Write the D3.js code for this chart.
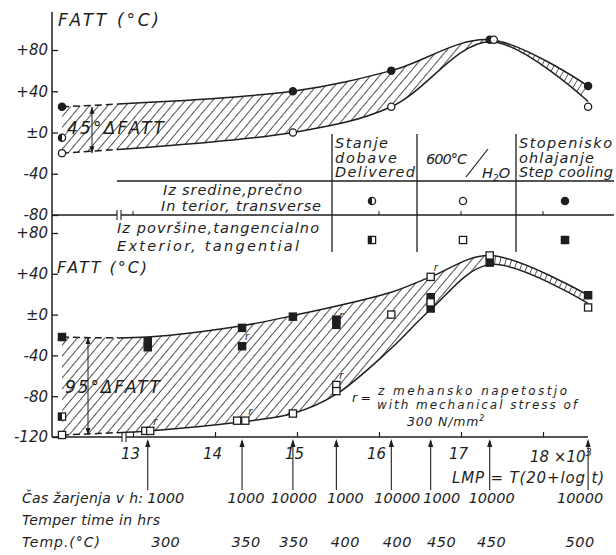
<!DOCTYPE html>
<html>
<head>
<meta charset="utf-8">
<script src="https://cdn.jsdelivr.net/npm/d3@7"></script>
<style>
  html, body { margin: 0; padding: 0; background: #fff; }
  svg { display: block; }
  text { font-family: "DejaVu Sans", sans-serif; font-style: italic; fill: #1e1e1e; }
</style>
</head>
<body>
<svg id="chart" width="616" height="555"></svg>
<script>
// ─── Data ──────────────────────────────────────────────────────────────────
const DELIVERED = "D";   // as-delivered state, plotted left of the axis break

// tempering treatments: LMP (x10^3), time in h, temperature in °C
const treatLMP   = [13.18, 14.33, 14.95, 15.48, 16.15, 16.63, 17.35, 18.55];
const treatHours = ["1000", "1000", "10000", "1000", "10000", "1000", "10000", "10000"];
const treatTemp  = ["300", "350", "350", "400", "400", "450", "450", "500"];
const lmpTicks   = [13, 14, 15, 16, 17, 18];
const topAxisTicks = [13, 16, 17, 18];
const topYTicks  = [80, 40, 0, -40, -80];
const botYTicks  = [80, 40, 0, -40, -80, -120];
const PEAK_LMP   = 17.35;

// interior, transverse (circles) — upper panel
const topStep      = [[DELIVERED, 25], [14.95, 40], [16.15, 60], [17.35, 90], [18.55, 45]];
const top600       = [[DELIVERED, -20], [14.95, 0], [16.15, 25], [17.40, 90], [18.55, 25]];
const topDelivered = [[DELIVERED, -5]];
const topUpper     = [[DELIVERED, 25], [14.95, 40], [16.15, 60], [17.35, 90], [18.55, 45]];
const topLower     = [[DELIVERED, -20], [14.95, 0], [16.15, 25], [17.35, 88], [18.55, 30]];

// exterior, tangential (squares) — lower panel; 3rd item = tested with stress (r)
const botStep = [[DELIVERED, -22], [13.18, -26], [13.18, -32], [14.33, -13], [14.33, -31, true],
                 [14.95, -2], [15.48, -5], [15.48, -10, true], [16.63, 17], [16.63, 6],
                 [17.35, 51], [18.55, 19]];
const bot600  = [[DELIVERED, -118], [13.15, -114], [13.21, -114, true], [14.27, -104], [14.37, -104, true],
                 [14.95, -97], [15.48, -69, true], [15.48, -75], [16.15, 0], [16.63, 37, true],
                 [16.63, 12], [17.35, 58], [18.55, 7]];
const botDelivered = [[DELIVERED, -100]];
const botUpper = [[DELIVERED, -22], [13.18, -22], [14.33, -11], [14.95, -1], [16.15, 22],
                  [16.63, 37], [17.35, 58], [18.55, 19]];
const botLower = [[DELIVERED, -118], [13.18, -114], [14.33, -105], [14.95, -97], [15.48, -78],
                  [16.15, -33], [16.63, 5], [17.35, 49], [18.55, 11]];

// ─── Layout ────────────────────────────────────────────────────────────────
const W = 616, H = 555;
const INK = "#1e1e1e";
const AXIS_X = 52, BREAK_X = 120, AXIS_END = 588, RIGHT = 614;
const TOP_BASE = 215, BOT_BASE = 437;
const HOUR_NUDGE = [18, 4, 1, 9, 6, 11, 2, -8];

const x = d3.scaleLinear().domain([13, 18]).range([133, 543]);
const xOf = v => v === DELIVERED ? AXIS_X + 10 : x(v);
const yTop = d3.scaleLinear().domain([-80, 80]).range([TOP_BASE, 50]);
const yBot = d3.scaleLinear().domain([-120, 80]).range([BOT_BASE, 233]);

const svg = d3.select("#chart").attr("viewBox", `0 0 ${W} ${H}`);
const defs = svg.append("defs");

defs.append("pattern").attr("id", "hatch")
  .attr("patternUnits", "userSpaceOnUse").attr("width", 7).attr("height", 7)
  .attr("patternTransform", "rotate(40)")
  .append("line").attr("x1", 3.5).attr("y1", -1).attr("x2", 3.5).attr("y2", 8)
  .attr("stroke", "#333").attr("stroke-width", 0.85);

defs.append("clipPath").attr("id", "clipDash").append("rect")
  .attr("x", 0).attr("y", 0).attr("width", BREAK_X - 2).attr("height", H);
defs.append("clipPath").attr("id", "clipSolid").append("rect")
  .attr("x", BREAK_X - 2).attr("y", 0).attr("width", W).attr("height", H);

// text helper; width (optional) stretches the letter spacing like the lettering stencil
function txt(g, tx, ty, s, size = 14, width = null, anchor = "start") {
  const t = g.append("text").attr("x", tx).attr("y", ty)
    .attr("font-size", size).attr("text-anchor", anchor).text(s);
  if (width) t.attr("textLength", width).attr("lengthAdjust", "spacing");
  return t;
}

// ─── Bands (hatched region between the two curves) ─────────────────────────
function drawBand(g, ys, upper, lower, id) {
  const line = d3.line().x(d => xOf(d[0])).y(d => ys(d[1])).curve(d3.curveCatmullRom.alpha(0.5));
  const dU = line(upper);
  const dL = line(lower.slice().reverse());
  const band = dU + "L" + dL.slice(1) + "Z";
  defs.append("clipPath").attr("id", id).append("path").attr("d", band);
  const xSplit = x(PEAK_LMP);
  const [yb, yt] = ys.range();

  g.append("rect")
    .attr("x", AXIS_X).attr("y", yt - 20)
    .attr("width", xSplit - AXIS_X).attr("height", yb - yt + 40)
    .attr("fill", "url(#hatch)").attr("clip-path", `url(#${id})`);

  // rungs across the narrow band right of the peak
  const tmp = g.append("path").attr("d", dU).attr("fill", "none");
  const node = tmp.node(), L = node.getTotalLength();
  const rungs = [];
  for (let l = 0; l <= L; l += 5.5) {
    const p = node.getPointAtLength(l);
    if (p.x < xSplit) continue;
    const a = node.getPointAtLength(Math.max(0, l - 1)), b = node.getPointAtLength(Math.min(L, l + 1));
    let tx = b.x - a.x, ty = b.y - a.y;
    const n = Math.hypot(tx, ty) || 1; tx /= n; ty /= n;
    let nx = -ty, ny = tx;
    if (ny < 0) { nx = -nx; ny = -ny; }
    rungs.push([p.x - nx * 2, p.y - ny * 2, p.x + nx * 30, p.y + ny * 30]);
  }
  tmp.remove();
  g.append("g").attr("clip-path", `url(#${id})`)
    .selectAll("line").data(rungs).join("line")
    .attr("x1", d => d[0]).attr("y1", d => d[1]).attr("x2", d => d[2]).attr("y2", d => d[3])
    .attr("stroke", "#333").attr("stroke-width", 0.85);

  [dU, line(lower)].forEach(d => {
    g.append("path").attr("d", d).attr("fill", "none").attr("stroke", INK)
      .attr("stroke-width", 1.5).attr("clip-path", "url(#clipSolid)");
    g.append("path").attr("d", d).attr("fill", "none").attr("stroke", INK)
      .attr("stroke-width", 1.5).attr("stroke-dasharray", "7 4").attr("clip-path", "url(#clipDash)");
  });
}

// ─── Markers ───────────────────────────────────────────────────────────────
function marker(g, mx, my, shape, fill) {
  const r = 3.6;
  if (shape === "circle") {
    g.append("circle").attr("cx", mx).attr("cy", my).attr("r", r)
      .attr("fill", fill === "full" ? INK : "#fff").attr("stroke", INK).attr("stroke-width", 1.3);
    if (fill === "half")
      g.append("path").attr("d", `M${mx},${my - r}A${r},${r} 0 0 0 ${mx},${my + r}Z`).attr("fill", INK);
  } else {
    g.append("rect").attr("x", mx - r).attr("y", my - r).attr("width", 2 * r).attr("height", 2 * r)
      .attr("fill", fill === "full" ? INK : "#fff").attr("stroke", INK).attr("stroke-width", 1.3);
    if (fill === "half")
      g.append("rect").attr("x", mx - r).attr("y", my - r).attr("width", r).attr("height", 2 * r).attr("fill", INK);
  }
}

function drawPoints(g, ys, pts, shape, fill) {
  pts.forEach(d => {
    const px = xOf(d[0]), py = ys(d[1]);
    marker(g, px, py, shape, fill);
    if (d[2]) txt(g, px + 3, py - 6, "r", 10);
  });
}

// ─── Axes ──────────────────────────────────────────────────────────────────
const axG = svg.append("g");
axG.append("line").attr("x1", AXIS_X).attr("y1", 12).attr("x2", AXIS_X).attr("y2", BOT_BASE)
  .attr("stroke", INK).attr("stroke-width", 1.5);

const fmtY = v => v > 0 ? `+${v}` : v === 0 ? "±0" : `-${-v}`;
[[yTop, topYTicks], [yBot, botYTicks]].forEach(([ys, ticks]) => {
  const a = axG.append("g").attr("transform", `translate(${AXIS_X},0)`)
    .call(d3.axisLeft(ys).tickValues(ticks).tickFormat(fmtY).tickSizeInner(-6).tickSizeOuter(0).tickPadding(4));
  a.select(".domain").remove();
  a.selectAll("line").attr("stroke", INK).attr("stroke-width", 1.3);
  a.selectAll("text").attr("font-size", 15).attr("font-family", null).attr("fill", INK);
});

// upper panel base line
axG.append("line").attr("x1", AXIS_X).attr("y1", TOP_BASE).attr("x2", RIGHT).attr("y2", TOP_BASE)
  .attr("stroke", INK).attr("stroke-width", 1.4);
axG.selectAll("line.tt").data(topAxisTicks).join("line").attr("class", "tt")
  .attr("x1", d => x(d)).attr("x2", d => x(d)).attr("y1", TOP_BASE).attr("y2", TOP_BASE - 4)
  .attr("stroke", INK);

// lower x axis
const xa = axG.append("g").attr("transform", `translate(0,${BOT_BASE})`)
  .call(d3.axisBottom(x).tickValues(lmpTicks).tickSizeInner(-5).tickSizeOuter(0).tickPadding(11)
    .tickFormat(d => d === 18 ? "" : d));
xa.select(".domain").remove();
xa.selectAll("line").attr("stroke", INK).attr("stroke-width", 1.2);
xa.selectAll("text").attr("font-size", 15).attr("font-family", null).attr("fill", INK)
  .attr("dx", -3);
axG.append("line").attr("x1", AXIS_X).attr("y1", BOT_BASE).attr("x2", AXIS_END).attr("y2", BOT_BASE)
  .attr("stroke", INK).attr("stroke-width", 1.4);
const t18 = txt(axG, x(18) - 13, BOT_BASE + 25, "18 ×10", 15);
t18.append("tspan").attr("dy", -6).attr("font-size", 10).text("3");

// axis breaks
[[TOP_BASE, BREAK_X - 3], [BOT_BASE, BREAK_X + 2]].forEach(([by, bx]) => {
  axG.append("rect").attr("x", bx).attr("y", by - 2).attr("width", 4).attr("height", 4).attr("fill", "#fff");
  [bx, bx + 4].forEach(lx => axG.append("line").attr("x1", lx).attr("x2", lx)
    .attr("y1", by - 5).attr("y2", by + 5).attr("stroke", INK).attr("stroke-width", 1.1));
});

// treatment arrows
treatLMP.forEach((v, i) => {
  const ax = x(v);
  axG.append("line").attr("x1", ax).attr("x2", ax).attr("y1", BOT_BASE + 4).attr("y2", 490)
    .attr("stroke", INK).attr("stroke-width", 1.1);
  axG.append("path").attr("d", `M${ax},${BOT_BASE + 2}l-2.6,8h5.2Z`).attr("fill", INK);
  txt(axG, ax + HOUR_NUDGE[i], 503, treatHours[i], 14.5, null, "middle");
  txt(axG, ax + HOUR_NUDGE[i], 547, treatTemp[i], 14.5, null, "middle").attr("letter-spacing", 0.5);
});

// ─── Bands & points ────────────────────────────────────────────────────────
const plot = svg.append("g");
drawBand(plot, yTop, topUpper, topLower, "bandTop");
drawBand(plot, yBot, botUpper, botLower, "bandBot");

// ΔFATT dimension arrows
function dimArrow(ys, lo, hi, ax) {
  const y1 = ys(hi), y2 = ys(lo);
  plot.append("line").attr("x1", ax).attr("x2", ax).attr("y1", y1).attr("y2", y2)
    .attr("stroke", INK).attr("stroke-width", 1);
  plot.append("path").attr("d", `M${ax},${y1}l-2.5,7h5Z`).attr("fill", INK);
  plot.append("path").attr("d", `M${ax},${y2}l-2.5,-7h5Z`).attr("fill", INK);
}
dimArrow(yTop, topLower[0][1], topUpper[0][1], 92);
dimArrow(yBot, botLower[0][1], botUpper[0][1], 88);

drawPoints(plot, yTop, topStep, "circle", "full");
drawPoints(plot, yTop, top600, "circle", "open");
drawPoints(plot, yTop, topDelivered, "circle", "half");
drawPoints(plot, yBot, botStep, "square", "full");
drawPoints(plot, yBot, bot600, "square", "open");
drawPoints(plot, yBot, botDelivered, "square", "half");

// ─── Table / legend ────────────────────────────────────────────────────────
const tab = svg.append("g");
tab.append("line").attr("x1", 117).attr("x2", RIGHT).attr("y1", 181).attr("y2", 181)
  .attr("stroke", INK).attr("stroke-width", 1.3);
[332, 417, 516].forEach(lx => tab.append("line").attr("x1", lx).attr("x2", lx)
  .attr("y1", 134).attr("y2", 252).attr("stroke", INK).attr("stroke-width", 1.3));

txt(tab, 335, 148, "Stanje", 14.5, 53);
txt(tab, 335, 162.5, "dobave", 14.5, 62);
txt(tab, 335, 177, "Delivered", 14.5, 80);
txt(tab, 519, 148, "Stopenisko", 14.5, 93);
txt(tab, 519, 162.5, "ohlajanje", 14.5, 75);
txt(tab, 519, 177, "Step cooling", 14.5, 94);

txt(tab, 426, 164, "600°C", 14.5, 41);
tab.append("line").attr("x1", 466).attr("y1", 177).attr("x2", 488).attr("y2", 149)
  .attr("stroke", INK).attr("stroke-width", 1.2);
const h2o = txt(tab, 482, 178, "H", 14.5);
h2o.append("tspan").attr("font-size", 9).attr("dy", 3).text("2");
h2o.append("tspan").attr("dy", -3).text("O");

txt(tab, 163, 195, "Iz sredine,prečno", 14.5, 139);
txt(tab, 161, 210.5, "In terior, transverse", 14.5, 160);
txt(tab, 117, 233, "Iz površine,tangencialno", 14.5, 202);
txt(tab, 117, 251, "Exterior, tangential", 14.5, 182);

[["half", 372], ["open", 463], ["full", 565]].forEach(([f, lx]) => {
  marker(tab, lx, 201, "circle", f);
  marker(tab, lx, 240, "square", f);
});

// ─── Annotations ───────────────────────────────────────────────────────────
txt(svg, 58, 26, "FATT (°C)", 17, 101);
txt(svg, 57, 273, "FATT (°C)", 16, 90);
txt(svg, 67, 134, "45°ΔFATT", 17, 97);
txt(svg, 65, 393, "95°ΔFATT", 17, 95);

txt(svg, 352, 402, "r =", 12.5, 19);
txt(svg, 378, 395, "z mehansko napetostjo", 12, 189);
txt(svg, 377, 409, "with mechanical stress of", 12, 200);
const nmm = txt(svg, 407, 425.5, "300 N/mm", 12.5).attr("letter-spacing", 0.8);
nmm.append("tspan").attr("dy", -5).attr("font-size", 8).text("2");

txt(svg, 452, 483, "LMP = T(20+log t)", 15, 152);
txt(svg, 22, 503, "Čas žarjenja v h:", 14, 121);
txt(svg, 22, 525, "Temper time in hrs", 14, 138);
txt(svg, 22, 547, "Temp.(°C)", 14, 78);
</script>
</body>
</html>
